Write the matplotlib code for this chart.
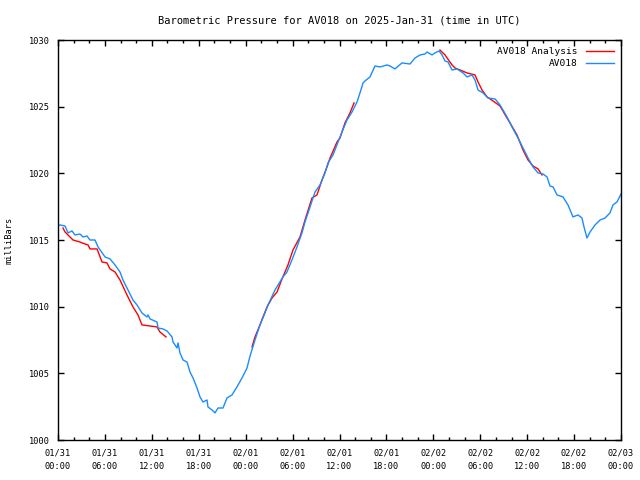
import numpy as np
import matplotlib
matplotlib.use("Agg")
import matplotlib.pyplot as plt
import matplotlib.dates as mdates

# hours after 2025-01-31 00:00 UTC, pressure in mb
obs_hours = [0.00, 0.26, 0.90, 1.28, 1.79, 2.17, 2.81, 3.20, 3.71, 4.09, 4.73, 5.12, 6.01, 6.65,
             7.29, 7.93, 8.31, 8.95, 9.59, 10.10, 10.74, 11.38, 11.51, 11.77, 12.66, 12.79, 13.43,
             13.94, 14.58, 14.71, 15.22, 15.35, 15.60, 15.99, 16.50, 16.88, 17.27, 17.78, 18.16,
             18.54, 19.06, 19.18, 19.70, 20.08, 20.46, 21.10, 21.61, 22.25, 22.89, 23.53, 24.17,
             24.56, 25.19, 25.83, 26.47, 26.86, 27.75, 28.77, 29.28, 29.92, 30.56, 31.20, 31.59,
             32.23, 32.87, 33.51, 34.15, 34.53, 35.17, 35.81, 36.32, 36.96, 37.60, 38.24, 38.62,
             39.01, 39.26, 39.90, 40.54, 41.18, 42.08, 42.46, 43.10, 43.99, 45.02, 45.66, 46.30,
             46.94, 47.19, 47.83, 48.21, 48.73, 49.11, 49.49, 49.88, 50.39, 51.03, 51.80, 52.31,
             52.95, 53.33, 53.72, 54.36, 54.99, 55.89, 56.53, 57.42, 58.06, 58.83, 59.47, 60.11,
             60.75, 61.39, 62.03, 62.54, 62.92, 63.31, 63.82, 64.58, 65.22, 65.86, 66.50, 67.01,
             67.27, 67.65, 68.04, 68.68, 69.32, 69.96, 70.59, 70.98, 71.49, 72.00]
obs_mb = [1016.05, 1016.13, 1016.05, 1015.53, 1015.68, 1015.38, 1015.45, 1015.23, 1015.30, 1015.00,
          1015.00, 1014.48, 1013.73, 1013.58, 1013.13, 1012.60, 1012.00, 1011.25, 1010.50, 1010.13,
          1009.53, 1009.23, 1009.38, 1009.08, 1008.85, 1008.40, 1008.33, 1008.18, 1007.73, 1007.35,
          1006.90, 1007.28, 1006.53, 1006.00, 1005.85, 1005.10, 1004.65, 1003.90, 1003.23, 1002.85,
          1003.00, 1002.48, 1002.25, 1002.03, 1002.40, 1002.40, 1003.15, 1003.38, 1003.98, 1004.65,
          1005.40, 1006.30, 1007.50, 1008.63, 1009.53, 1010.13, 1011.25, 1012.23, 1012.60, 1013.50,
          1014.48, 1015.53, 1016.35, 1017.48, 1018.60, 1019.13, 1020.03, 1020.78, 1021.38, 1022.35,
          1023.10, 1024.00, 1024.60, 1025.35, 1026.03, 1026.78, 1026.93, 1027.23, 1028.05, 1027.98,
          1028.13, 1028.05, 1027.83, 1028.28, 1028.20, 1028.65, 1028.88, 1028.95, 1029.10, 1028.88,
          1029.03, 1029.18, 1028.88, 1028.43, 1028.35, 1027.75, 1027.83, 1027.53, 1027.23, 1027.38,
          1027.00, 1026.25, 1026.03, 1025.65, 1025.58, 1025.13, 1024.23, 1023.48, 1022.65, 1021.90,
          1021.15, 1020.48, 1020.03, 1019.95, 1019.73, 1019.05, 1018.98, 1018.38, 1018.23, 1017.63,
          1016.73, 1016.88, 1016.65, 1015.98, 1015.15, 1015.60, 1016.13, 1016.50, 1016.65, 1017.03,
          1017.63, 1017.85, 1018.45]

# analysis series, nan = gap
ana_hours = [0.64, 0.90, 1.92, 2.81, 3.07, 3.84, 4.09, 4.99, 5.63, 6.27, 6.65, 7.29, 7.93, 8.82,
             9.59, 10.23, 10.74, 11.77, 12.66, 13.04, 13.81, 14.0,
             24.81, 25.19, 25.83, 26.22, 26.73, 27.37, 28.01, 28.65, 29.41, 30.05, 30.95, 31.59,
             32.48, 33.12, 33.76, 34.40, 34.79, 35.68, 36.06, 36.70, 37.34, 37.86, 38.0,
             48.85, 49.49, 50.39, 50.77, 51.41, 52.31, 53.33, 53.72, 54.23, 54.87, 55.63, 56.53,
             57.42, 57.81, 58.70, 59.47, 60.11, 60.75, 61.39, 61.90]
ana_mb = [1015.90, 1015.60, 1015.00, 1014.85, 1014.78, 1014.63, 1014.33, 1014.33, 1013.35, 1013.28,
          1012.83, 1012.60, 1012.00, 1010.88, 1009.98, 1009.38, 1008.63, 1008.55, 1008.48, 1008.10,
          1007.73, np.nan,
          1006.98, 1007.73, 1008.63, 1009.23, 1009.98, 1010.65, 1011.10, 1012.08, 1013.13, 1014.25,
          1015.23, 1016.50, 1018.15, 1018.38, 1019.50, 1020.48, 1021.15, 1022.35, 1022.65, 1023.78,
          1024.53, 1025.28, np.nan,
          1029.25, 1028.88, 1028.13, 1027.90, 1027.75, 1027.53, 1027.38, 1026.85, 1026.25, 1025.73,
          1025.43, 1025.05, 1024.15, 1023.78, 1022.88, 1021.75, 1021.00, 1020.55, 1020.33, 1019.88]

start = np.datetime64('2025-01-31T00:00')

def to_time(h):
    return start + (np.array(h) * 3600).astype('timedelta64[s]')

plt.rcParams['font.family'] = 'DejaVu Sans Mono'
plt.rcParams['font.size'] = 6.2

fig = plt.figure(figsize=(6.4, 4.8), dpi=100)
ax = fig.add_axes([58/640, 40/480, 563/640, 400/480])

ax.plot(to_time(ana_hours), ana_mb, color='#ff0000', lw=1, label='AV018 Analysis')
ax.plot(to_time(obs_hours), obs_mb, color='#1a8cff', lw=1, label='AV018')

ax.set_xlim(start, np.datetime64('2025-02-03T00:00'))
ax.set_ylim(1000, 1030)
ax.set_yticks(np.arange(1000, 1031, 5))
ax.xaxis.set_major_locator(mdates.HourLocator(byhour=[0, 6, 12, 18]))
ax.xaxis.set_minor_locator(mdates.HourLocator(interval=2))
ax.xaxis.set_major_formatter(mdates.DateFormatter('%m/%d\n%H:%M'))

ax.tick_params(which='both', direction='in', top=True, right=True, width=1)
ax.tick_params(which='major', length=4.5)
ax.tick_params(axis='x', which='major', pad=6)
ax.tick_params(axis='y', which='major', pad=6)
ax.tick_params(which='minor', length=2.5)
for s in ax.spines.values():
    s.set_linewidth(1)

ax.set_ylabel('milliBars', labelpad=11)
ax.set_title('Barometric Pressure for AV018 on 2025-Jan-31 (time in UTC)', pad=12)
ax.legend(loc='upper right', frameon=False, markerfirst=False, handlelength=3.0,
          borderaxespad=0.35, labelspacing=0.3, handletextpad=0.9, fontsize=6.8)

fig.canvas.draw()
for lbl in ax.get_xticklabels():
    lbl.set_linespacing(1.6)

fig.savefig('out.png', dpi=100)
